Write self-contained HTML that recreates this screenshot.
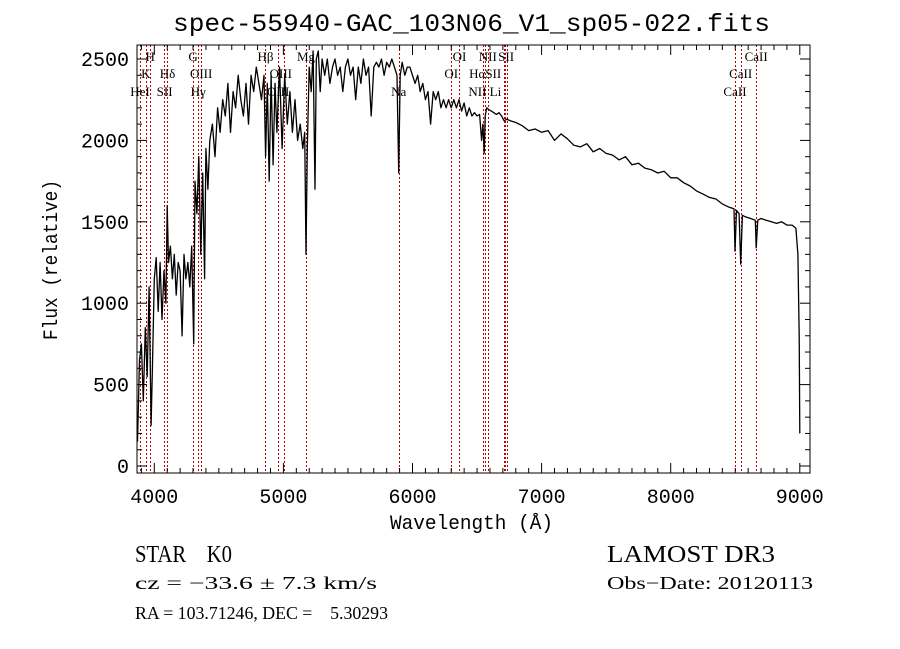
<!DOCTYPE html>
<html><head><meta charset="utf-8"><style>
html,body{margin:0;padding:0;background:#fff;}
svg{display:block;font-family:"Liberation Serif","DejaVu Serif",serif;}
text{white-space:pre;}
</style></head><body>
<svg id="chart" width="900" height="649" viewBox="0 0 900 649" xmlns="http://www.w3.org/2000/svg" xml:space="preserve">
<rect width="900" height="649" fill="#fff"/>
<text x="173" y="31" font-size="25" font-family="Liberation Mono, monospace" textLength="597" lengthAdjust="spacingAndGlyphs">spec-55940-GAC_103N06_V1_sp05-022.fits</text>
<g id="plot"></g>
<text x="390" y="529" font-size="20" font-family="Liberation Mono, monospace" textLength="163" lengthAdjust="spacingAndGlyphs">Wavelength (Å)</text>
<text transform="translate(57,340) rotate(-90)" font-size="20" font-family="Liberation Mono, monospace" textLength="160" lengthAdjust="spacingAndGlyphs">Flux (relative)</text>
<text x="135" y="562" font-size="24" textLength="97" lengthAdjust="spacingAndGlyphs">STAR    K0</text>
<text x="607" y="562" font-size="24" textLength="168" lengthAdjust="spacingAndGlyphs">LAMOST DR3</text>
<text x="135" y="589" font-size="18" textLength="242" lengthAdjust="spacingAndGlyphs">cz = −33.6 ± 7.3 km/s</text>
<text x="607" y="589" font-size="18" textLength="206" lengthAdjust="spacingAndGlyphs">Obs−Date: 20120113</text>
<text x="135" y="619" font-size="18" textLength="253" lengthAdjust="spacingAndGlyphs">RA = 103.71246, DEC =    5.30293</text>
</svg>
<script>
const wavelengths = [
3870,3885,3900,3915,3930,3945,3960,3975,3985,4000,
4015,4030,4045,4060,4075,4090,4100,4110,4125,4140,
4155,4170,4185,4200,4215,4230,4245,4260,4275,4290,
4305,4315,4330,4345,4360,4375,4390,4400,4415,4430,
4450,4470,4490,4510,4530,4550,4570,4590,4610,4630,
4650,4670,4690,4710,4730,4750,4770,4790,4810,4830,
4850,4862,4875,4890,4905,4920,4935,4950,4970,4990,
5010,5030,5050,5070,5090,5110,5130,5150,5165,5175,
5185,5200,5215,5230,5245,5255,5270,5285,5300,5320,
5340,5360,5380,5400,5420,5440,5460,5480,5500,5520,
5540,5560,5580,5600,5620,5640,5660,5680,5700,5720,
5740,5760,5780,5800,5820,5840,5860,5880,5893,5905,
5920,5940,5960,5980,6000,6020,6040,6060,6080,6100,
6120,6140,6160,6180,6200,6220,6240,6260,6280,6300,
6320,6340,6360,6380,6400,6420,6440,6460,6480,6500,
6520,6535,6545,6555,6563,6575,6590,6610,6630,6650,
6670,6690,6710,6730,6760,6800,6850,6900,6950,7000,
7050,7100,7150,7200,7250,7300,7350,7400,7450,7500,
7550,7600,7650,7700,7750,7800,7850,7900,7950,8000,
8050,8100,8150,8200,8250,8300,8350,8400,8450,8490,
8498,8510,8530,8542,8555,8580,8620,8655,8662,8675,
8700,8740,8780,8820,8860,8900,8940,8970,8985,8995,
9000];
const fluxes = [
150,650,750,400,850,550,1100,250,600,1150,
1280,950,1250,900,1200,1000,1600,1250,1350,1150,
1300,1050,1250,1200,800,1300,1150,1250,1100,1350,
750,1750,1550,1900,1300,1800,1150,1950,1700,2000,
2100,1900,2200,2050,2250,2150,2350,2050,2300,2200,
2400,2250,2150,2350,2100,2400,2300,2450,2350,2250,
2400,1900,2350,1750,2400,1850,2350,2050,2450,1950,
2400,2100,2300,2050,2250,2000,2100,1950,2050,1300,
1950,2450,2300,2550,1700,2500,2550,2300,2500,2400,
2500,2350,2450,2500,2400,2450,2300,2450,2500,2400,
2450,2250,2450,2350,2500,2400,2450,2150,2450,2480,
2450,2500,2400,2480,2450,2500,2450,2400,1800,2400,
2480,2400,2450,2450,2400,2350,2400,2300,2350,2250,
2300,2100,2300,2250,2300,2200,2250,2200,2250,2200,
2250,2200,2250,2180,2230,2150,2200,2150,2170,2150,
2160,2000,2100,1920,2150,2200,2190,2180,2170,2160,
2170,2150,2120,2130,2120,2110,2090,2060,2070,2050,
2060,2000,2040,2010,1970,1960,1980,1930,1950,1920,
1910,1880,1900,1850,1860,1830,1820,1800,1810,1770,
1770,1740,1720,1690,1670,1650,1640,1610,1590,1580,
1320,1570,1550,1240,1540,1530,1520,1510,1340,1510,
1520,1510,1500,1490,1500,1480,1480,1460,1300,800,
200];
const lineWaves = [3889,3934,3968,4072,4102,4300,4340,4363,4861,4959,5007,5175,5893,6300,6364,6548,6563,6583,6708,6717,6731,8498,8542,8662];
const labelTexts = ["H","K","HeI","SII","Hδ","G","OIII","Hγ","Hβ","OIII","OIII","Mg","Na","OI","OI","NII","SII","HαSII","NII Li","CaII","CaII","CaII"];
const labelWaves = [3968,3934,3889,4080,4102,4300,4363,4340,4861,4980,4959,5175,5893,6300,6364,6583,6725,6563,6560,8662,8542,8498];
const labelRows = [0,1,2,2,1,0,1,2,0,1,2,0,2,1,0,0,0,1,2,0,1,2];
const xTicks = [4000,5000,6000,7000,8000,9000];
const yTicks = [0,500,1000,1500,2000,2500];

const L=137,R=810,T=45,B=473;
const xs = w => 154.3+(w-4000)*0.1291;
const ys = f => 466-f*0.1628;
const NS="http://www.w3.org/2000/svg";
const g=document.getElementById('plot');
function mk(tag,attrs){const e=document.createElementNS(NS,tag);for(const k in attrs)e.setAttribute(k,attrs[k]);g.appendChild(e);return e;}

const clip=mk('clipPath',{id:'pc'});
const cr=document.createElementNS(NS,'rect');cr.setAttribute('x',L);cr.setAttribute('y',T);cr.setAttribute('width',R-L);cr.setAttribute('height',B-T);clip.appendChild(cr);

lineWaves.forEach(w=>{
  const l=mk('line',{x1:Math.round(xs(w))+0.5,x2:Math.round(xs(w))+0.5,y1:T,y2:B,stroke:'#c00000','stroke-width':1,'stroke-dasharray':'2,2'});
  
  
});

let d='';
const n=Math.min(wavelengths.length,fluxes.length);
for(let i=0;i<n;i++){d+=(i?'L':'M')+xs(wavelengths[i]).toFixed(1)+','+ys(fluxes[i]).toFixed(1);}
const p=mk('path',{d:d,fill:'none',stroke:'#000','stroke-width':1.3,'clip-path':'url(#pc)','stroke-linejoin':'round'});



const rowY=[61,78,96];
labelTexts.forEach((t,i)=>{
  const e=mk('text',{x:xs(labelWaves[i]),y:rowY[labelRows[i]],'font-size':13,'text-anchor':'middle'});
  e.textContent=t;
  
  
});

const fr=mk('rect',{x:L,y:T,width:R-L,height:B-T,fill:'none',stroke:'#000','stroke-width':1});



for(let w=3900;w<=9100;w+=100){
  const x=xs(w); if(x<L||x>R)continue;
  const len=(w%1000===0)?10:5;
  mk('line',{x1:x,x2:x,y1:B,y2:B-len,stroke:'#000'});
  mk('line',{x1:x,x2:x,y1:T,y2:T+len,stroke:'#000'});
}
for(let f=0;f<=2500;f+=100){
  const y=ys(f); const len=(f%500===0)?10:5;
  mk('line',{x1:L,x2:L+len,y1:y,y2:y,stroke:'#000'});
  mk('line',{x1:R,x2:R-len,y1:y,y2:y,stroke:'#000'});
}
xTicks.forEach(w=>{
  const e=mk('text',{x:xs(w),y:503,'font-size':20,'text-anchor':'middle','font-family':'Liberation Mono, monospace'});
  e.textContent=w;
  
  
});
yTicks.forEach(f=>{
  const e=mk('text',{x:129,y:ys(f)+7,'font-size':20,'text-anchor':'end','font-family':'Liberation Mono, monospace'});
  e.textContent=f;
  
  
});
</script>
</body></html>
